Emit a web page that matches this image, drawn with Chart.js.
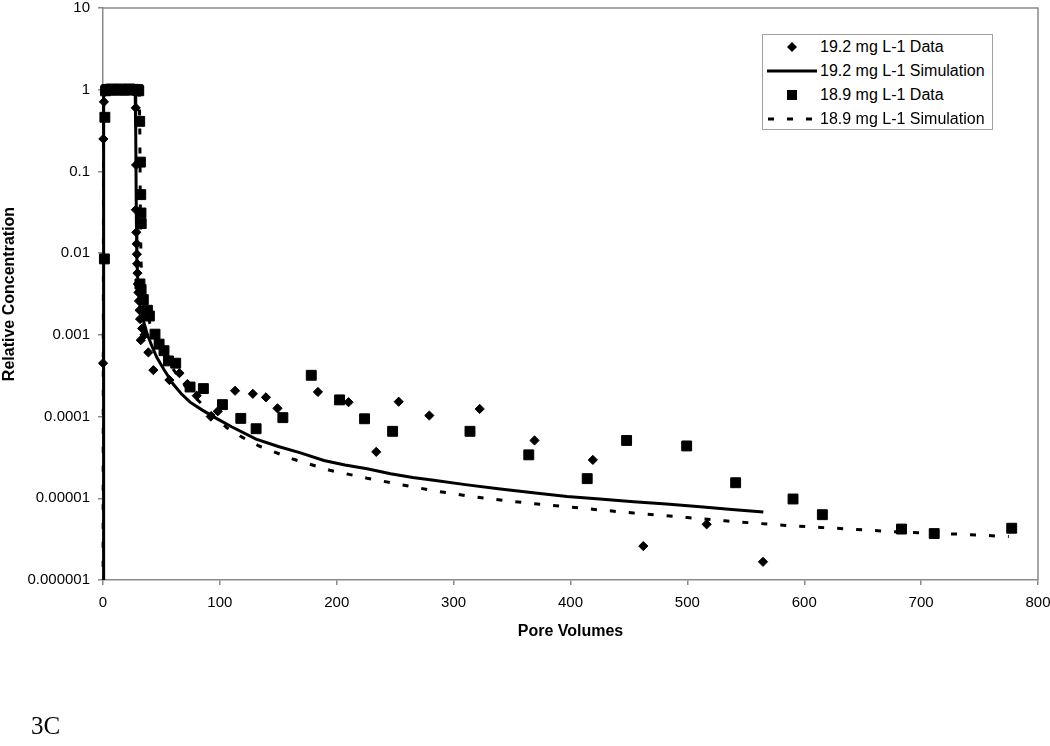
<!DOCTYPE html>
<html><head><meta charset="utf-8">
<script src="https://cdn.jsdelivr.net/npm/chart.js@4.4.1/dist/chart.umd.min.js"></script>
<style>
html,body{margin:0;padding:0;background:#fff;}
#wrap{position:relative;width:1050px;height:746px;overflow:hidden;background:#fff;}
#c{position:absolute;left:0;top:0;}
#legend{position:absolute;left:762px;top:34px;width:231px;height:96px;border:1px solid #a0a0a0;background:#fff;font-family:"Liberation Sans",Arial,sans-serif;font-size:16px;color:#000;box-sizing:border-box;}
.row{position:absolute;left:0;height:24px;width:100%;}
.row svg{position:absolute;left:0;top:0;}
.row span{position:absolute;left:57px;top:0;line-height:24px;white-space:nowrap;}
#fig{position:absolute;left:31px;top:713px;font-family:"Liberation Serif","Times New Roman",serif;font-size:25px;line-height:1;color:#000;}
</style></head>
<body>
<div id="wrap">
<canvas id="c" width="1050" height="746"></canvas>
<div id="legend"></div>
<div id="fig">3C</div>
</div>
<script>
// ---- data ----
const pv192Data = [0, 0.3, 0.8, 1.3, 2, 3, 4, 5, 6, 7, 8, 9, 10, 11, 12, 13, 14, 15, 16, 17, 18, 19, 20, 21, 22, 23, 24, 25, 26, 27,
  28.0, 28.3, 28.1, 28.5, 28.8, 29.0, 29.2, 29.5, 29.8, 30.3, 30.8, 31.3, 31.7, 32.3, 33.5, 35.5,
  38.8, 43.1, 56.8, 65.4, 72.2, 80.2, 92.2, 98.2,
  113, 128.2, 139.4, 149.3, 183.9, 210.1, 233.8, 253, 279.2,
  322.3, 369.2, 419.1, 462.3, 516.5, 564.7];
const c192Data = [4.5e-4, 0.25, 0.71, 0.93,
  1.0, 1.01, 1.0, 1.02, 1.0, 0.99, 1.0, 1.01, 1.0, 1.0, 1.02, 1.0, 1.0, 0.99, 1.01, 1.0, 1.0, 1.02, 1.0, 1.0, 1.01, 1.0, 1.0, 1.02, 1.0, 0.98,
  0.6, 0.12, 0.034, 0.018, 0.013, 0.0097, 0.0074, 0.0057, 0.0042, 0.0033, 0.0026, 0.002, 0.00156, 0.00086, 0.0012, 0.001,
  6.1e-4, 3.7e-4, 2.8e-4, 3.4e-4, 2.5e-4, 1.8e-4, 1.0e-4, 1.16e-4,
  2.07e-4, 1.9e-4, 1.72e-4, 1.26e-4, 2.0e-4, 1.5e-4, 3.7e-5, 1.52e-4, 1.03e-4,
  1.24e-4, 5.1e-5, 2.95e-5, 2.6e-6, 4.8e-6, 1.67e-6];

const pv189Data = [1.2, 1.6, 2.2, 3, 4, 5, 6, 7, 8, 9, 10, 11, 12, 13, 14, 15, 16, 17, 18, 19, 20, 21, 22, 23, 24, 25, 26, 27, 28, 29, 30, 30.6,
  31.4, 32.0, 32.3, 32.5, 32.7, 31.6, 32.6, 34.5, 38, 39.7, 44.5, 48, 52.2, 56, 62.2,
  74.5, 85.9, 102.2, 117.9, 131, 153.9, 178.2, 202.4, 223.8, 247.8,
  314, 364.3, 414.3, 448, 499.4, 541.3, 590.4, 615.5, 683.2, 711.2, 777.5];
const c189Data = [0.0085, 0.46, 0.97,
  1.0, 1.01, 1.0, 1.0, 1.02, 1.0, 0.99, 1.0, 1.01, 1.0, 1.0, 1.0, 1.02, 1.0, 1.0, 0.99, 1.0, 1.01, 1.0, 1.0, 1.02, 1.0, 1.0, 1.01, 1.0, 1.0, 0.99, 1.0,
  0.97,
  0.41, 0.13, 0.052, 0.031, 0.023, 0.0042, 0.0036, 0.0027, 0.002, 0.0017, 0.00102, 7.7e-4, 6.4e-4, 4.8e-4, 4.5e-4,
  2.3e-4, 2.2e-4, 1.4e-4, 9.5e-5, 7.1e-5, 9.7e-5, 3.2e-4, 1.6e-4, 9.4e-5, 6.6e-5,
  6.6e-5, 3.4e-5, 1.74e-5, 5.1e-5, 4.37e-5, 1.55e-5, 9.8e-6, 6.3e-6, 4.2e-6, 3.7e-6, 4.3e-6];

const pv192Sim = [0, 0.3, 0.8, 27.5, 28.0, 28.5, 29.0, 30, 32, 34.5,
  38, 42, 46, 52, 60, 67, 74.5, 85, 97, 110,
  131, 150, 169, 189, 207, 226, 246, 265, 283, 310,
  340, 370, 397, 425, 454, 482, 511, 538, 565];
const c192Sim = [1e-7, 0.9, 1.0, 1.0, 0.3, 0.03, 0.008, 0.004, 0.0022, 0.0015,
  0.001, 7.2e-4, 5.3e-4, 3.8e-4, 2.5e-4, 1.9e-4, 1.5e-4, 1.2e-4, 9.5e-5, 7.5e-5,
  5.3e-5, 4.3e-5, 3.6e-5, 2.9e-5, 2.55e-5, 2.3e-5, 2.0e-5, 1.8e-5, 1.66e-5, 1.47e-5,
  1.3e-5, 1.16e-5, 1.05e-5, 9.8e-6, 9.1e-6, 8.5e-6, 7.9e-6, 7.3e-6, 6.8e-6];

const pv189Sim = [0, 0.5, 1.0, 31.0, 31.5, 32.0, 32.5, 33.5, 36, 40,
  45, 50, 60, 70, 80, 90, 106, 119, 134.5, 163,
  194, 226, 255, 284, 312, 340, 368, 397, 425, 454,
  500, 532, 563, 590, 614, 645, 677, 708, 740, 775];
const c189Sim = [1e-7, 0.9, 1.0, 1.0, 0.3, 0.03, 0.008, 0.004, 0.0024, 0.0014,
  9e-4, 6.5e-4, 3.8e-4, 2.4e-4, 1.65e-4, 1.2e-4, 7.3e-5, 5.6e-5, 4.3e-5, 3.0e-5,
  2.2e-5, 1.76e-5, 1.47e-5, 1.23e-5, 1.07e-5, 9.5e-6, 8.6e-6, 7.9e-6, 7.2e-6, 6.6e-6,
  5.8e-6, 5.3e-6, 4.9e-6, 4.6e-6, 4.4e-6, 4.15e-6, 3.9e-6, 3.75e-6, 3.6e-6, 3.4e-6];

const yTickValues = [1e-6, 1e-5, 1e-4, 1e-3, 1e-2, 1e-1, 1, 10];
const yTickLabels = ['0.000001', '0.00001', '0.0001', '0.001', '0.01', '0.1', '1', '10'];
const seriesLabels = ['19.2 mg L-1 Data', '19.2 mg L-1 Simulation', '18.9 mg L-1 Data', '18.9 mg L-1 Simulation'];
const xTitle = 'Pore Volumes';
const yTitle = 'Relative Concentration';

// ---- chart ----
const zip = (xs, ys) => xs.map((x, i) => ({x: x, y: ys[i]}));
const GRAY = '#8a8a8a';
const FONT = '"Liberation Sans", Arial, sans-serif';

const framePlugin = {
  id: 'frame',
  beforeDatasetsDraw(chart) {
    const {ctx, chartArea: a} = chart;
    ctx.save();
    ctx.strokeStyle = GRAY;
    ctx.lineWidth = 1.5;
    ctx.beginPath();
    ctx.moveTo(a.left, a.top);
    ctx.lineTo(a.right, a.top);
    ctx.lineTo(a.right, a.bottom);
    ctx.stroke();
    ctx.restore();
  }
};

const chart = new Chart(document.getElementById('c'), {
  type: 'scatter',
  data: {
    datasets: [
      {label: seriesLabels[0], data: zip(pv192Data, c192Data), pointStyle: 'rectRot', pointRadius: 4.6,
        backgroundColor: '#000', borderColor: '#000', borderWidth: 1, showLine: false, clip: false},
      {label: seriesLabels[2], data: zip(pv189Data, c189Data), pointStyle: 'rect', pointRadius: 7,
        backgroundColor: '#000', borderColor: '#000', borderWidth: 1, showLine: false, clip: false},
      {label: seriesLabels[1], data: zip(pv192Sim, c192Sim), showLine: true, pointRadius: 0,
        borderColor: '#000', borderWidth: 3, tension: 0, clip: {left: 3, top: 0, right: 0, bottom: 0}},
      {label: seriesLabels[3], data: zip(pv189Sim, c189Sim), showLine: true, pointRadius: 0,
        borderColor: '#000', borderWidth: 3, borderDash: [6, 13], tension: 0, clip: {left: 3, top: 0, right: 0, bottom: 0}}
    ]
  },
  options: {
    responsive: false,
    animation: false,
    devicePixelRatio: 1,
    events: [],
    layout: {padding: {left: 0, right: 12, top: 6, bottom: 105}},
    plugins: {legend: {display: false}, tooltip: {enabled: false}},
    scales: {
      x: {
        type: 'linear', min: 0, max: 800,
        ticks: {stepSize: 100, color: '#000', font: {family: FONT, size: 15}, padding: 9, maxRotation: 0},
        grid: {drawOnChartArea: false, drawTicks: true, tickLength: 5, color: GRAY, lineWidth: 1.5},
        border: {display: true, color: GRAY, width: 1.5},
        title: {display: true, text: xTitle, color: '#000', font: {family: FONT, size: 16, weight: 'bold'}, padding: 0},
        afterFit: (s) => { s.height = 61; s.paddingLeft = 0; s.paddingRight = 0; }
      },
      y: {
        type: 'logarithmic', min: 1e-6, max: 10,
        afterBuildTicks: (s) => { s.ticks = yTickValues.map(v => ({value: v})); },
        ticks: {
          color: '#000', font: {family: FONT, size: 15}, padding: 8,
          callback: (v) => {
            const i = yTickValues.findIndex(t => Math.abs(Math.log10(t) - Math.log10(v)) < 1e-6);
            return i >= 0 ? yTickLabels[i] : null;
          }
        },
        grid: {drawOnChartArea: false, drawTicks: true, tickLength: 5, color: GRAY, lineWidth: 1.5},
        border: {display: true, color: GRAY, width: 1.5},
        title: {display: true, text: yTitle, color: '#000', font: {family: FONT, size: 16, weight: 'bold'}, padding: 0},
        afterFit: (s) => { s.width = 103; s.paddingTop = 0; s.paddingBottom = 0; }
      }
    }
  },
  plugins: [framePlugin]
});

// ---- legend (HTML, built from the chart's dataset labels) ----
const legendSymbols = [
  '<polygon points="29,7 34,12 29,17 24,12" fill="#000"/>',
  '<line x1="4" y1="12" x2="54" y2="12" stroke="#000" stroke-width="3"/>',
  '<rect x="24" y="7" width="10" height="10" fill="#000"/>',
  '<line x1="5" y1="12" x2="54" y2="12" stroke="#000" stroke-width="3" stroke-dasharray="6 13"/>'
];
const legend = document.getElementById('legend');
seriesLabels.forEach((lab, i) => {
  const row = document.createElement('div');
  row.className = 'row';
  row.style.top = (i * 24) + 'px';
  row.innerHTML = '<svg width="56" height="24" viewBox="0 0 56 24">' + legendSymbols[i] + '</svg><span></span>';
  row.querySelector('span').textContent = lab;
  legend.appendChild(row);
});
</script>
</body></html>
